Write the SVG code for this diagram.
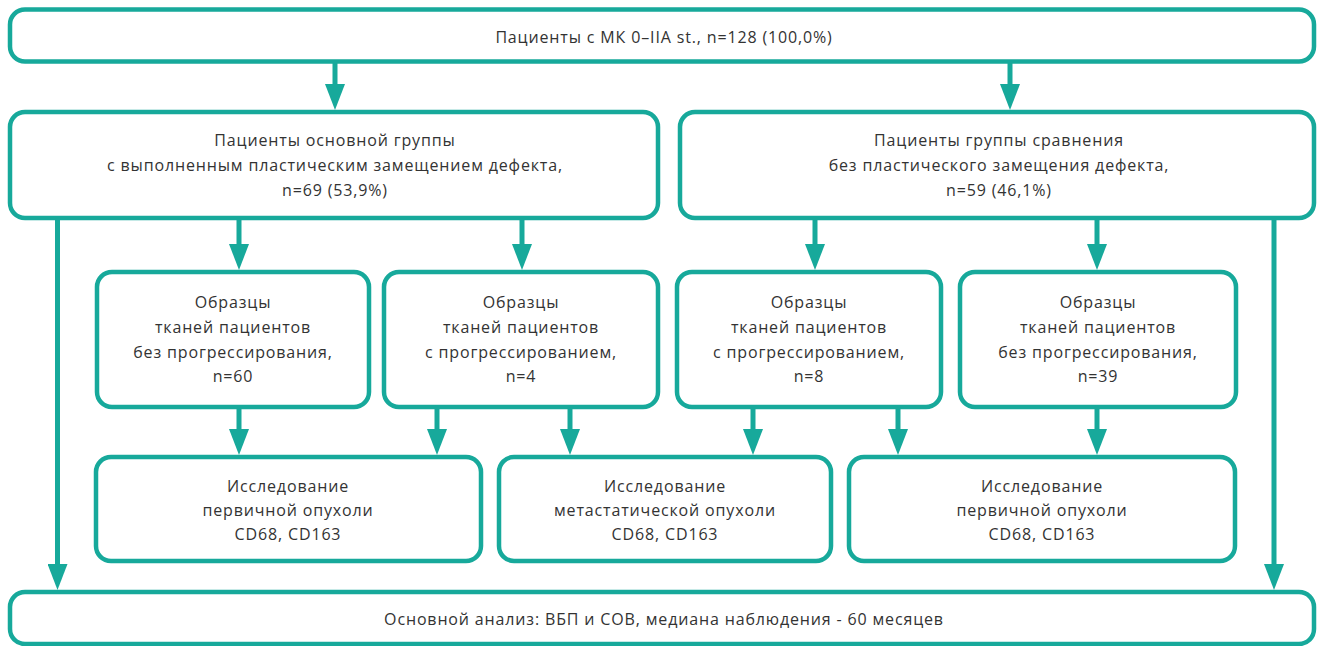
<svg xmlns="http://www.w3.org/2000/svg" width="1322" height="646" viewBox="0 0 1322 646">
<style>
.box{fill:#fff;stroke:#17a99b;stroke-width:4.5}
.t{font-family:"Open Sans","Noto Sans","Liberation Sans",sans-serif;font-size:16px;fill:#333;text-anchor:middle;letter-spacing:0.85px}
.c{stroke:#17a99b;stroke-width:5;fill:none;marker-end:url(#ah)}
</style>
<defs>
<marker id="ah" markerUnits="userSpaceOnUse" viewBox="0 0 26 20" refX="0" refY="10" markerWidth="26" markerHeight="20" orient="auto">
<path d="M0,0 L26,10 L0,20 Z" fill="#17a99b"/>
</marker>
</defs>
<rect width="1322" height="646" fill="#fff"/>
<g id="connectors">
<path class="c" d="M335,63 V84"/>
<path class="c" d="M1010,63 V84"/>
<path class="c" d="M239,219 V244"/>
<path class="c" d="M522,219 V244"/>
<path class="c" d="M815,219 V244"/>
<path class="c" d="M1097,219 V244"/>
<path class="c" d="M239,408 V429"/>
<path class="c" d="M437,408 V429"/>
<path class="c" d="M570,408 V429"/>
<path class="c" d="M753,408 V429"/>
<path class="c" d="M898,408 V429"/>
<path class="c" d="M1097,408 V429"/>
<path class="c" d="M57.5,219 V564"/>
<path class="c" d="M1274,219 V564"/>
</g>
<g id="top">
<rect class="box" x="10" y="9.5" width="1304" height="52" rx="15"/>
<text class="t" x="664" y="43">Пациенты с МК 0–IIA st., n=128 (100,0%)</text>
</g>
<g id="main-group">
<rect class="box" x="10" y="112" width="648" height="106" rx="15"/>
<text class="t" x="335" y="146">Пациенты основной группы</text>
<text class="t" x="335" y="171">с выполненным пластическим замещением дефекта,</text>
<text class="t" x="335" y="196">n=69 (53,9%)</text>
</g>
<g id="compare-group">
<rect class="box" x="680" y="112" width="634" height="106" rx="15"/>
<text class="t" x="999" y="146">Пациенты группы сравнения</text>
<text class="t" x="999" y="171">без пластического замещения дефекта,</text>
<text class="t" x="999" y="196">n=59 (46,1%)</text>
</g>
<g id="samples-a">
<rect class="box" x="97" y="272" width="272" height="135" rx="15"/>
<text class="t" x="233" y="308">Образцы</text>
<text class="t" x="233" y="333">тканей пациентов</text>
<text class="t" x="233" y="358">без прогрессирования,</text>
<text class="t" x="233" y="382">n=60</text>
</g>
<g id="samples-b">
<rect class="box" x="384" y="272" width="274" height="135" rx="15"/>
<text class="t" x="521" y="308">Образцы</text>
<text class="t" x="521" y="333">тканей пациентов</text>
<text class="t" x="521" y="358">с прогрессированием,</text>
<text class="t" x="521" y="382">n=4</text>
</g>
<g id="samples-c">
<rect class="box" x="677" y="272" width="264" height="135" rx="15"/>
<text class="t" x="809" y="308">Образцы</text>
<text class="t" x="809" y="333">тканей пациентов</text>
<text class="t" x="809" y="358">с прогрессированием,</text>
<text class="t" x="809" y="382">n=8</text>
</g>
<g id="samples-d">
<rect class="box" x="960" y="272" width="276" height="135" rx="15"/>
<text class="t" x="1098" y="308">Образцы</text>
<text class="t" x="1098" y="333">тканей пациентов</text>
<text class="t" x="1098" y="358">без прогрессирования,</text>
<text class="t" x="1098" y="382">n=39</text>
</g>
<g id="study-e">
<rect class="box" x="96" y="457" width="385" height="104" rx="15"/>
<text class="t" x="288" y="492">Исследование</text>
<text class="t" x="288" y="516">первичной опухоли</text>
<text class="t" x="288" y="540">CD68, CD163</text>
</g>
<g id="study-f">
<rect class="box" x="499" y="457" width="332" height="104" rx="15"/>
<text class="t" x="665" y="492">Исследование</text>
<text class="t" x="665" y="516">метастатической опухоли</text>
<text class="t" x="665" y="540">CD68, CD163</text>
</g>
<g id="study-g">
<rect class="box" x="849" y="457" width="386" height="104" rx="15"/>
<text class="t" x="1042" y="492">Исследование</text>
<text class="t" x="1042" y="516">первичной опухоли</text>
<text class="t" x="1042" y="540">CD68, CD163</text>
</g>
<g id="analysis">
<rect class="box" x="10" y="592" width="1304" height="52" rx="15"/>
<text class="t" x="664" y="625">Основной анализ: ВБП и СОВ, медиана наблюдения - 60 месяцев</text>
</g>
</svg>
